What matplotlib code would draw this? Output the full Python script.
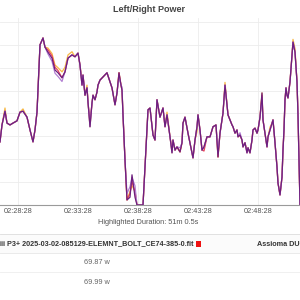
import numpy as np
import matplotlib.pyplot as plt
from matplotlib.patches import Rectangle
from matplotlib.lines import Line2D

plt.rcParams['font.family'] = ['Liberation Sans', 'DejaVu Sans']

# seconds relative to 02:28:28
time_s = [-90, -80, -65, -55, -40, -25, -5, 10, 25, 45, 60, 75, 85, 95, 110, 125,
          135, 150, 170, 185, 200, 220, 235, 250, 270, 285, 300, 310, 320, 325,
          335, 345, 350, 360, 370, 375, 385, 395, 400, 410, 425, 445, 460, 470,
          485, 495, 505, 515, 520, 525, 535, 545, 560, 570, 585, 595, 625, 650,
          660, 675, 685, 695, 710, 725, 735, 745, 760, 770, 775, 785, 795, 810,
          820, 825, 835, 850, 870, 875, 885, 895, 900, 910, 920, 930, 945, 960,
          975, 990, 1000, 1010, 1025, 1035, 1050, 1060, 1070, 1075, 1085, 1095,
          1100, 1110, 1120, 1125, 1135, 1145, 1150, 1160, 1170, 1175, 1185, 1195,
          1200, 1210, 1220, 1225, 1235, 1245, 1250, 1260, 1270, 1275, 1285, 1295,
          1300, 1310, 1320, 1325, 1330, 1335, 1340, 1345, 1350, 1360, 1370, 1375,
          1385, 1395, 1400, 1405, 1410]

power_base = [138, 175, 205, 179, 175, 179, 184, 203, 205, 192, 164, 138, 164, 203,
              350, 365, 345, 334, 321, 295, 289, 278, 291, 321, 328, 324, 332, 306,
              262, 284, 240, 256, 225, 171, 223, 240, 230, 247, 262, 273, 280, 289,
              269, 256, 219, 245, 289, 262, 251, 197, 98, 11, 17, 66, 17, 0, 0, 208,
              212, 153, 142, 230, 192, 212, 171, 197, 149, 114, 142, 120, 127, 116,
              136, 179, 192, 157, 114, 103, 142, 171, 197, 164, 120, 127, 149, 149,
              171, 175, 105, 157, 201, 262, 197, 186, 175, 171, 157, 164, 149, 153,
              142, 127, 136, 114, 125, 114, 142, 164, 168, 157, 164, 192, 245, 186,
              157, 127, 149, 164, 179, 186, 136, 83, 48, 22, 61, 120, 164, 230, 256,
              240, 234, 269, 328, 356, 334, 269, 197, 98, 0]

# where the other channels separate from the base trace
orange_pts = {-65: 212, 25: 210, 150: 343, 170: 331, 185: 306, 200: 300, 220: 291,
              235: 301, 250: 328, 270: 335, 320: 270, 345: 262, 560: 30, 570: 42,
              585: 30, 1035: 268, 1375: 362, 1385: 342, 745: 203, 895: 160,
              1145: 120, 1260: 170}
red_pts = {150: 339, 170: 326, 185: 301, 200: 294, 360: 180, 560: 25, 570: 52,
           585: 28, 1220: 240, 770: 120, 930: 118}
lavender_pts = {150: 330, 170: 314, 185: 288, 200: 281, 220: 270, 505: 280,
                520: 258, 545: 25, 560: 40, 570: 60, 585: 42, 1220: 232, 1110: 158,
                810: 125, 1000: 115}

def with_pts(pts):
    vals = list(power_base)
    for t, v in pts.items():
        vals[time_s.index(t)] = v
    return vals

series = [
    ("#f7b844", with_pts(orange_pts)),
    ("#e8455a", with_pts(red_pts)),
    ("#b27fd2", with_pts(lavender_pts)),
    ("#6d1f7e", power_base),
]

tick_pos = [0, 300, 600, 900, 1200]
tick_lab = ["02:28:28", "02:33:28", "02:38:28", "02:43:28", "02:48:28"]

fig = plt.figure(figsize=(3, 3), dpi=100)
ax = fig.add_axes([0, 95 / 300, 1, 187 / 300])
for c, v in series:
    ax.plot(time_s, v, color=c, lw=0.9, solid_joinstyle="round")

ax.set_xlim(-90, 1410)
ax.set_ylim(0, 408.7)
ax.set_yticks(np.arange(50, 401, 50))
ax.set_xticks(tick_pos)
ax.set_xticklabels(tick_lab)
ax.tick_params(axis="x", length=0, pad=2, labelsize=5.3, labelcolor="#555555")
ax.tick_params(axis="y", length=0, labelleft=False)
ax.grid(color="#ececec", lw=0.6)
ax.set_axisbelow(True)
for s in ["left", "right", "top"]:
    ax.spines[s].set_visible(False)
ax.spines["bottom"].set_color("#9a9a9a")
ax.spines["bottom"].set_linewidth(0.8)

def px(x, y):
    return x / 300, 1 - y / 300

fig.text(*px(149, 10), "Left/Right Power", ha="center", va="center",
         fontsize=6.5, fontweight="bold", color="#444444")
fig.text(*px(148, 222), "Highlighted Duration: 51m 0.5s", ha="center", va="center",
         fontsize=5.3, color="#555555")

# table below the chart
fig.add_artist(Rectangle(px(0, 253), 1, 19 / 300, transform=fig.transFigure,
                         facecolor="#fbfbfb", edgecolor="none"))
for yy, col in [(234, "#dddddd"), (253, "#e6e6e6"), (272, "#eeeeee")]:
    fig.add_artist(Line2D([0, 1], [1 - yy / 300] * 2, color=col, lw=0.6))
fig.text(*px(-1, 244), "iii P3+ 2025-03-02-085129-ELEMNT_BOLT_CE74-385-0.fit",
         ha="left", va="center", fontsize=5.2, fontweight="bold", color="#333333")
fig.add_artist(Rectangle(px(196, 247), 5 / 300, 6 / 300, transform=fig.transFigure,
                         facecolor="#ee1111", edgecolor="none"))
fig.text(*px(257, 244), "Assioma DUO", ha="left", va="center",
         fontsize=5.2, fontweight="bold", color="#333333")
fig.text(*px(97, 263), "69.87 w", ha="center", va="center", fontsize=5.3, color="#666666")
fig.text(*px(97, 282), "69.99 w", ha="center", va="center", fontsize=5.3, color="#666666")

fig.savefig("out.png", dpi=100)
